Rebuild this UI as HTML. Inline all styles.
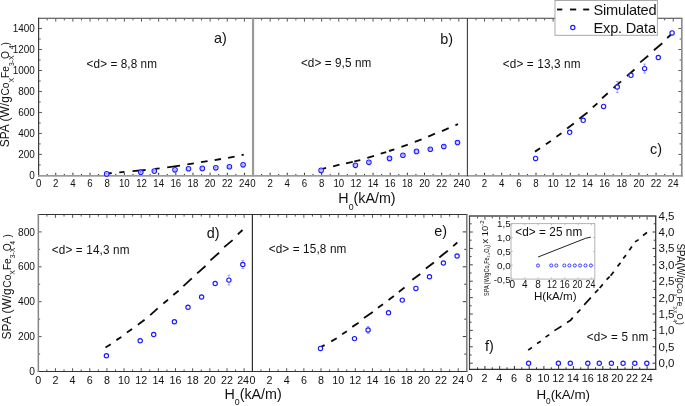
<!DOCTYPE html>
<html><head><meta charset="utf-8"><title>SPA vs H0</title>
<style>
html,body{margin:0;padding:0;background:#fff;}
body{width:685px;height:406px;overflow:hidden;font-family:"Liberation Sans", sans-serif;}
svg{display:block;will-change:transform;}
</style></head><body>
<svg width="685" height="406" viewBox="0 0 685 406" font-family='"Liberation Sans", sans-serif'>
<rect x="0" y="0" width="685" height="406" fill="#fff"/>
<line x1="47.18" y1="18.80" x2="47.18" y2="20.40" stroke="#555" stroke-width="1" />
<line x1="47.18" y1="175.10" x2="47.18" y2="173.90" stroke="#222" stroke-width="0.9" />
<line x1="55.75" y1="18.80" x2="55.75" y2="21.60" stroke="#555" stroke-width="1" />
<line x1="55.75" y1="175.10" x2="55.75" y2="172.70" stroke="#222" stroke-width="0.9" />
<line x1="64.33" y1="18.80" x2="64.33" y2="20.40" stroke="#555" stroke-width="1" />
<line x1="64.33" y1="175.10" x2="64.33" y2="173.90" stroke="#222" stroke-width="0.9" />
<line x1="72.90" y1="18.80" x2="72.90" y2="21.60" stroke="#555" stroke-width="1" />
<line x1="72.90" y1="175.10" x2="72.90" y2="172.70" stroke="#222" stroke-width="0.9" />
<line x1="81.48" y1="18.80" x2="81.48" y2="20.40" stroke="#555" stroke-width="1" />
<line x1="81.48" y1="175.10" x2="81.48" y2="173.90" stroke="#222" stroke-width="0.9" />
<line x1="90.06" y1="18.80" x2="90.06" y2="21.60" stroke="#555" stroke-width="1" />
<line x1="90.06" y1="175.10" x2="90.06" y2="172.70" stroke="#222" stroke-width="0.9" />
<line x1="98.63" y1="18.80" x2="98.63" y2="20.40" stroke="#555" stroke-width="1" />
<line x1="98.63" y1="175.10" x2="98.63" y2="173.90" stroke="#222" stroke-width="0.9" />
<line x1="107.21" y1="18.80" x2="107.21" y2="21.60" stroke="#555" stroke-width="1" />
<line x1="107.21" y1="175.10" x2="107.21" y2="172.70" stroke="#222" stroke-width="0.9" />
<line x1="115.78" y1="18.80" x2="115.78" y2="20.40" stroke="#555" stroke-width="1" />
<line x1="115.78" y1="175.10" x2="115.78" y2="173.90" stroke="#222" stroke-width="0.9" />
<line x1="124.36" y1="18.80" x2="124.36" y2="21.60" stroke="#555" stroke-width="1" />
<line x1="124.36" y1="175.10" x2="124.36" y2="172.70" stroke="#222" stroke-width="0.9" />
<line x1="132.94" y1="18.80" x2="132.94" y2="20.40" stroke="#555" stroke-width="1" />
<line x1="132.94" y1="175.10" x2="132.94" y2="173.90" stroke="#222" stroke-width="0.9" />
<line x1="141.51" y1="18.80" x2="141.51" y2="21.60" stroke="#555" stroke-width="1" />
<line x1="141.51" y1="175.10" x2="141.51" y2="172.70" stroke="#222" stroke-width="0.9" />
<line x1="150.09" y1="18.80" x2="150.09" y2="20.40" stroke="#555" stroke-width="1" />
<line x1="150.09" y1="175.10" x2="150.09" y2="173.90" stroke="#222" stroke-width="0.9" />
<line x1="158.66" y1="18.80" x2="158.66" y2="21.60" stroke="#555" stroke-width="1" />
<line x1="158.66" y1="175.10" x2="158.66" y2="172.70" stroke="#222" stroke-width="0.9" />
<line x1="167.24" y1="18.80" x2="167.24" y2="20.40" stroke="#555" stroke-width="1" />
<line x1="167.24" y1="175.10" x2="167.24" y2="173.90" stroke="#222" stroke-width="0.9" />
<line x1="175.82" y1="18.80" x2="175.82" y2="21.60" stroke="#555" stroke-width="1" />
<line x1="175.82" y1="175.10" x2="175.82" y2="172.70" stroke="#222" stroke-width="0.9" />
<line x1="184.39" y1="18.80" x2="184.39" y2="20.40" stroke="#555" stroke-width="1" />
<line x1="184.39" y1="175.10" x2="184.39" y2="173.90" stroke="#222" stroke-width="0.9" />
<line x1="192.97" y1="18.80" x2="192.97" y2="21.60" stroke="#555" stroke-width="1" />
<line x1="192.97" y1="175.10" x2="192.97" y2="172.70" stroke="#222" stroke-width="0.9" />
<line x1="201.54" y1="18.80" x2="201.54" y2="20.40" stroke="#555" stroke-width="1" />
<line x1="201.54" y1="175.10" x2="201.54" y2="173.90" stroke="#222" stroke-width="0.9" />
<line x1="210.12" y1="18.80" x2="210.12" y2="21.60" stroke="#555" stroke-width="1" />
<line x1="210.12" y1="175.10" x2="210.12" y2="172.70" stroke="#222" stroke-width="0.9" />
<line x1="218.70" y1="18.80" x2="218.70" y2="20.40" stroke="#555" stroke-width="1" />
<line x1="218.70" y1="175.10" x2="218.70" y2="173.90" stroke="#222" stroke-width="0.9" />
<line x1="227.27" y1="18.80" x2="227.27" y2="21.60" stroke="#555" stroke-width="1" />
<line x1="227.27" y1="175.10" x2="227.27" y2="172.70" stroke="#222" stroke-width="0.9" />
<line x1="235.85" y1="18.80" x2="235.85" y2="20.40" stroke="#555" stroke-width="1" />
<line x1="235.85" y1="175.10" x2="235.85" y2="173.90" stroke="#222" stroke-width="0.9" />
<line x1="244.42" y1="18.80" x2="244.42" y2="21.60" stroke="#555" stroke-width="1" />
<line x1="244.42" y1="175.10" x2="244.42" y2="172.70" stroke="#222" stroke-width="0.9" />
<line x1="261.58" y1="18.80" x2="261.58" y2="20.40" stroke="#555" stroke-width="1" />
<line x1="261.58" y1="175.10" x2="261.58" y2="173.90" stroke="#222" stroke-width="0.9" />
<line x1="270.15" y1="18.80" x2="270.15" y2="21.60" stroke="#555" stroke-width="1" />
<line x1="270.15" y1="175.10" x2="270.15" y2="172.70" stroke="#222" stroke-width="0.9" />
<line x1="278.73" y1="18.80" x2="278.73" y2="20.40" stroke="#555" stroke-width="1" />
<line x1="278.73" y1="175.10" x2="278.73" y2="173.90" stroke="#222" stroke-width="0.9" />
<line x1="287.30" y1="18.80" x2="287.30" y2="21.60" stroke="#555" stroke-width="1" />
<line x1="287.30" y1="175.10" x2="287.30" y2="172.70" stroke="#222" stroke-width="0.9" />
<line x1="295.88" y1="18.80" x2="295.88" y2="20.40" stroke="#555" stroke-width="1" />
<line x1="295.88" y1="175.10" x2="295.88" y2="173.90" stroke="#222" stroke-width="0.9" />
<line x1="304.46" y1="18.80" x2="304.46" y2="21.60" stroke="#555" stroke-width="1" />
<line x1="304.46" y1="175.10" x2="304.46" y2="172.70" stroke="#222" stroke-width="0.9" />
<line x1="313.03" y1="18.80" x2="313.03" y2="20.40" stroke="#555" stroke-width="1" />
<line x1="313.03" y1="175.10" x2="313.03" y2="173.90" stroke="#222" stroke-width="0.9" />
<line x1="321.61" y1="18.80" x2="321.61" y2="21.60" stroke="#555" stroke-width="1" />
<line x1="321.61" y1="175.10" x2="321.61" y2="172.70" stroke="#222" stroke-width="0.9" />
<line x1="330.18" y1="18.80" x2="330.18" y2="20.40" stroke="#555" stroke-width="1" />
<line x1="330.18" y1="175.10" x2="330.18" y2="173.90" stroke="#222" stroke-width="0.9" />
<line x1="338.76" y1="18.80" x2="338.76" y2="21.60" stroke="#555" stroke-width="1" />
<line x1="338.76" y1="175.10" x2="338.76" y2="172.70" stroke="#222" stroke-width="0.9" />
<line x1="347.34" y1="18.80" x2="347.34" y2="20.40" stroke="#555" stroke-width="1" />
<line x1="347.34" y1="175.10" x2="347.34" y2="173.90" stroke="#222" stroke-width="0.9" />
<line x1="355.91" y1="18.80" x2="355.91" y2="21.60" stroke="#555" stroke-width="1" />
<line x1="355.91" y1="175.10" x2="355.91" y2="172.70" stroke="#222" stroke-width="0.9" />
<line x1="364.49" y1="18.80" x2="364.49" y2="20.40" stroke="#555" stroke-width="1" />
<line x1="364.49" y1="175.10" x2="364.49" y2="173.90" stroke="#222" stroke-width="0.9" />
<line x1="373.06" y1="18.80" x2="373.06" y2="21.60" stroke="#555" stroke-width="1" />
<line x1="373.06" y1="175.10" x2="373.06" y2="172.70" stroke="#222" stroke-width="0.9" />
<line x1="381.64" y1="18.80" x2="381.64" y2="20.40" stroke="#555" stroke-width="1" />
<line x1="381.64" y1="175.10" x2="381.64" y2="173.90" stroke="#222" stroke-width="0.9" />
<line x1="390.22" y1="18.80" x2="390.22" y2="21.60" stroke="#555" stroke-width="1" />
<line x1="390.22" y1="175.10" x2="390.22" y2="172.70" stroke="#222" stroke-width="0.9" />
<line x1="398.79" y1="18.80" x2="398.79" y2="20.40" stroke="#555" stroke-width="1" />
<line x1="398.79" y1="175.10" x2="398.79" y2="173.90" stroke="#222" stroke-width="0.9" />
<line x1="407.37" y1="18.80" x2="407.37" y2="21.60" stroke="#555" stroke-width="1" />
<line x1="407.37" y1="175.10" x2="407.37" y2="172.70" stroke="#222" stroke-width="0.9" />
<line x1="415.94" y1="18.80" x2="415.94" y2="20.40" stroke="#555" stroke-width="1" />
<line x1="415.94" y1="175.10" x2="415.94" y2="173.90" stroke="#222" stroke-width="0.9" />
<line x1="424.52" y1="18.80" x2="424.52" y2="21.60" stroke="#555" stroke-width="1" />
<line x1="424.52" y1="175.10" x2="424.52" y2="172.70" stroke="#222" stroke-width="0.9" />
<line x1="433.10" y1="18.80" x2="433.10" y2="20.40" stroke="#555" stroke-width="1" />
<line x1="433.10" y1="175.10" x2="433.10" y2="173.90" stroke="#222" stroke-width="0.9" />
<line x1="441.67" y1="18.80" x2="441.67" y2="21.60" stroke="#555" stroke-width="1" />
<line x1="441.67" y1="175.10" x2="441.67" y2="172.70" stroke="#222" stroke-width="0.9" />
<line x1="450.25" y1="18.80" x2="450.25" y2="20.40" stroke="#555" stroke-width="1" />
<line x1="450.25" y1="175.10" x2="450.25" y2="173.90" stroke="#222" stroke-width="0.9" />
<line x1="458.82" y1="18.80" x2="458.82" y2="21.60" stroke="#555" stroke-width="1" />
<line x1="458.82" y1="175.10" x2="458.82" y2="172.70" stroke="#222" stroke-width="0.9" />
<line x1="475.98" y1="18.80" x2="475.98" y2="20.40" stroke="#555" stroke-width="1" />
<line x1="475.98" y1="175.10" x2="475.98" y2="173.90" stroke="#222" stroke-width="0.9" />
<line x1="484.55" y1="18.80" x2="484.55" y2="21.60" stroke="#555" stroke-width="1" />
<line x1="484.55" y1="175.10" x2="484.55" y2="172.70" stroke="#222" stroke-width="0.9" />
<line x1="493.13" y1="18.80" x2="493.13" y2="20.40" stroke="#555" stroke-width="1" />
<line x1="493.13" y1="175.10" x2="493.13" y2="173.90" stroke="#222" stroke-width="0.9" />
<line x1="501.70" y1="18.80" x2="501.70" y2="21.60" stroke="#555" stroke-width="1" />
<line x1="501.70" y1="175.10" x2="501.70" y2="172.70" stroke="#222" stroke-width="0.9" />
<line x1="510.28" y1="18.80" x2="510.28" y2="20.40" stroke="#555" stroke-width="1" />
<line x1="510.28" y1="175.10" x2="510.28" y2="173.90" stroke="#222" stroke-width="0.9" />
<line x1="518.86" y1="18.80" x2="518.86" y2="21.60" stroke="#555" stroke-width="1" />
<line x1="518.86" y1="175.10" x2="518.86" y2="172.70" stroke="#222" stroke-width="0.9" />
<line x1="527.43" y1="18.80" x2="527.43" y2="20.40" stroke="#555" stroke-width="1" />
<line x1="527.43" y1="175.10" x2="527.43" y2="173.90" stroke="#222" stroke-width="0.9" />
<line x1="536.01" y1="18.80" x2="536.01" y2="21.60" stroke="#555" stroke-width="1" />
<line x1="536.01" y1="175.10" x2="536.01" y2="172.70" stroke="#222" stroke-width="0.9" />
<line x1="544.58" y1="18.80" x2="544.58" y2="20.40" stroke="#555" stroke-width="1" />
<line x1="544.58" y1="175.10" x2="544.58" y2="173.90" stroke="#222" stroke-width="0.9" />
<line x1="553.16" y1="18.80" x2="553.16" y2="21.60" stroke="#555" stroke-width="1" />
<line x1="553.16" y1="175.10" x2="553.16" y2="172.70" stroke="#222" stroke-width="0.9" />
<line x1="561.74" y1="18.80" x2="561.74" y2="20.40" stroke="#555" stroke-width="1" />
<line x1="561.74" y1="175.10" x2="561.74" y2="173.90" stroke="#222" stroke-width="0.9" />
<line x1="570.31" y1="18.80" x2="570.31" y2="21.60" stroke="#555" stroke-width="1" />
<line x1="570.31" y1="175.10" x2="570.31" y2="172.70" stroke="#222" stroke-width="0.9" />
<line x1="578.89" y1="18.80" x2="578.89" y2="20.40" stroke="#555" stroke-width="1" />
<line x1="578.89" y1="175.10" x2="578.89" y2="173.90" stroke="#222" stroke-width="0.9" />
<line x1="587.46" y1="18.80" x2="587.46" y2="21.60" stroke="#555" stroke-width="1" />
<line x1="587.46" y1="175.10" x2="587.46" y2="172.70" stroke="#222" stroke-width="0.9" />
<line x1="596.04" y1="18.80" x2="596.04" y2="20.40" stroke="#555" stroke-width="1" />
<line x1="596.04" y1="175.10" x2="596.04" y2="173.90" stroke="#222" stroke-width="0.9" />
<line x1="604.62" y1="18.80" x2="604.62" y2="21.60" stroke="#555" stroke-width="1" />
<line x1="604.62" y1="175.10" x2="604.62" y2="172.70" stroke="#222" stroke-width="0.9" />
<line x1="613.19" y1="18.80" x2="613.19" y2="20.40" stroke="#555" stroke-width="1" />
<line x1="613.19" y1="175.10" x2="613.19" y2="173.90" stroke="#222" stroke-width="0.9" />
<line x1="621.77" y1="18.80" x2="621.77" y2="21.60" stroke="#555" stroke-width="1" />
<line x1="621.77" y1="175.10" x2="621.77" y2="172.70" stroke="#222" stroke-width="0.9" />
<line x1="630.34" y1="18.80" x2="630.34" y2="20.40" stroke="#555" stroke-width="1" />
<line x1="630.34" y1="175.10" x2="630.34" y2="173.90" stroke="#222" stroke-width="0.9" />
<line x1="638.92" y1="18.80" x2="638.92" y2="21.60" stroke="#555" stroke-width="1" />
<line x1="638.92" y1="175.10" x2="638.92" y2="172.70" stroke="#222" stroke-width="0.9" />
<line x1="647.50" y1="18.80" x2="647.50" y2="20.40" stroke="#555" stroke-width="1" />
<line x1="647.50" y1="175.10" x2="647.50" y2="173.90" stroke="#222" stroke-width="0.9" />
<line x1="656.07" y1="18.80" x2="656.07" y2="21.60" stroke="#555" stroke-width="1" />
<line x1="656.07" y1="175.10" x2="656.07" y2="172.70" stroke="#222" stroke-width="0.9" />
<line x1="664.65" y1="18.80" x2="664.65" y2="20.40" stroke="#555" stroke-width="1" />
<line x1="664.65" y1="175.10" x2="664.65" y2="173.90" stroke="#222" stroke-width="0.9" />
<line x1="673.22" y1="18.80" x2="673.22" y2="21.60" stroke="#555" stroke-width="1" />
<line x1="673.22" y1="175.10" x2="673.22" y2="172.70" stroke="#222" stroke-width="0.9" />
<line x1="39.10" y1="164.91" x2="40.70" y2="164.91" stroke="#555" stroke-width="1" />
<line x1="681.20" y1="164.91" x2="679.60" y2="164.91" stroke="#555" stroke-width="1" />
<line x1="39.10" y1="154.42" x2="41.90" y2="154.42" stroke="#555" stroke-width="1" />
<line x1="681.20" y1="154.42" x2="678.40" y2="154.42" stroke="#555" stroke-width="1" />
<line x1="39.10" y1="143.93" x2="40.70" y2="143.93" stroke="#555" stroke-width="1" />
<line x1="681.20" y1="143.93" x2="679.60" y2="143.93" stroke="#555" stroke-width="1" />
<line x1="39.10" y1="133.44" x2="41.90" y2="133.44" stroke="#555" stroke-width="1" />
<line x1="681.20" y1="133.44" x2="678.40" y2="133.44" stroke="#555" stroke-width="1" />
<line x1="39.10" y1="122.95" x2="40.70" y2="122.95" stroke="#555" stroke-width="1" />
<line x1="681.20" y1="122.95" x2="679.60" y2="122.95" stroke="#555" stroke-width="1" />
<line x1="39.10" y1="112.46" x2="41.90" y2="112.46" stroke="#555" stroke-width="1" />
<line x1="681.20" y1="112.46" x2="678.40" y2="112.46" stroke="#555" stroke-width="1" />
<line x1="39.10" y1="101.97" x2="40.70" y2="101.97" stroke="#555" stroke-width="1" />
<line x1="681.20" y1="101.97" x2="679.60" y2="101.97" stroke="#555" stroke-width="1" />
<line x1="39.10" y1="91.48" x2="41.90" y2="91.48" stroke="#555" stroke-width="1" />
<line x1="681.20" y1="91.48" x2="678.40" y2="91.48" stroke="#555" stroke-width="1" />
<line x1="39.10" y1="80.99" x2="40.70" y2="80.99" stroke="#555" stroke-width="1" />
<line x1="681.20" y1="80.99" x2="679.60" y2="80.99" stroke="#555" stroke-width="1" />
<line x1="39.10" y1="70.50" x2="41.90" y2="70.50" stroke="#555" stroke-width="1" />
<line x1="681.20" y1="70.50" x2="678.40" y2="70.50" stroke="#555" stroke-width="1" />
<line x1="39.10" y1="60.01" x2="40.70" y2="60.01" stroke="#555" stroke-width="1" />
<line x1="681.20" y1="60.01" x2="679.60" y2="60.01" stroke="#555" stroke-width="1" />
<line x1="39.10" y1="49.52" x2="41.90" y2="49.52" stroke="#555" stroke-width="1" />
<line x1="681.20" y1="49.52" x2="678.40" y2="49.52" stroke="#555" stroke-width="1" />
<line x1="39.10" y1="39.03" x2="40.70" y2="39.03" stroke="#555" stroke-width="1" />
<line x1="681.20" y1="39.03" x2="679.60" y2="39.03" stroke="#555" stroke-width="1" />
<line x1="39.10" y1="28.54" x2="41.90" y2="28.54" stroke="#555" stroke-width="1" />
<line x1="681.20" y1="28.54" x2="678.40" y2="28.54" stroke="#555" stroke-width="1" />
<line x1="38.10" y1="18.30" x2="682.40" y2="18.30" stroke="#3c3c3c" stroke-width="1.1" />
<line x1="38.60" y1="17.80" x2="38.60" y2="176.60" stroke="#3c3c3c" stroke-width="1.2" />
<rect x="38.10" y="175.00" width="644.50" height="1.7" fill="#9a9a9a"/>
<rect x="251.95" y="18.30" width="2.2" height="158.10" fill="#9a9a9a"/>
<line x1="467.40" y1="18.30" x2="467.40" y2="176.20" stroke="#3c3c3c" stroke-width="1.1" />
<rect x="681.00" y="17.80" width="1.6" height="158.70" fill="#8a8a8a"/>
<text transform="translate(34.90,178.70) scale(0.94,1.0)" x="0" y="0" font-size="10.6" text-anchor="end" fill="#111" >0</text>
<text transform="translate(34.90,157.72) scale(0.94,1.0)" x="0" y="0" font-size="10.6" text-anchor="end" fill="#111" >200</text>
<text transform="translate(34.90,136.74) scale(0.94,1.0)" x="0" y="0" font-size="10.6" text-anchor="end" fill="#111" >400</text>
<text transform="translate(34.90,115.76) scale(0.94,1.0)" x="0" y="0" font-size="10.6" text-anchor="end" fill="#111" >600</text>
<text transform="translate(34.90,94.78) scale(0.94,1.0)" x="0" y="0" font-size="10.6" text-anchor="end" fill="#111" >800</text>
<text transform="translate(34.90,73.80) scale(0.94,1.0)" x="0" y="0" font-size="10.6" text-anchor="end" fill="#111" >1000</text>
<text transform="translate(34.90,52.82) scale(0.94,1.0)" x="0" y="0" font-size="10.6" text-anchor="end" fill="#111" >1200</text>
<text transform="translate(34.90,31.84) scale(0.94,1.0)" x="0" y="0" font-size="10.6" text-anchor="end" fill="#111" >1400</text>
<text transform="translate(38.60,187.00) scale(0.93,1.0)" x="0" y="0" font-size="10.4" text-anchor="middle" fill="#111" >0</text>
<text transform="translate(55.75,187.00) scale(0.93,1.0)" x="0" y="0" font-size="10.4" text-anchor="middle" fill="#111" >2</text>
<text transform="translate(72.90,187.00) scale(0.93,1.0)" x="0" y="0" font-size="10.4" text-anchor="middle" fill="#111" >4</text>
<text transform="translate(90.06,187.00) scale(0.93,1.0)" x="0" y="0" font-size="10.4" text-anchor="middle" fill="#111" >6</text>
<text transform="translate(107.21,187.00) scale(0.93,1.0)" x="0" y="0" font-size="10.4" text-anchor="middle" fill="#111" >8</text>
<text transform="translate(124.36,187.00) scale(0.93,1.0)" x="0" y="0" font-size="10.4" text-anchor="middle" fill="#111" >10</text>
<text transform="translate(141.51,187.00) scale(0.93,1.0)" x="0" y="0" font-size="10.4" text-anchor="middle" fill="#111" >12</text>
<text transform="translate(158.66,187.00) scale(0.93,1.0)" x="0" y="0" font-size="10.4" text-anchor="middle" fill="#111" >14</text>
<text transform="translate(175.82,187.00) scale(0.93,1.0)" x="0" y="0" font-size="10.4" text-anchor="middle" fill="#111" >16</text>
<text transform="translate(192.97,187.00) scale(0.93,1.0)" x="0" y="0" font-size="10.4" text-anchor="middle" fill="#111" >18</text>
<text transform="translate(210.12,187.00) scale(0.93,1.0)" x="0" y="0" font-size="10.4" text-anchor="middle" fill="#111" >20</text>
<text transform="translate(227.27,187.00) scale(0.93,1.0)" x="0" y="0" font-size="10.4" text-anchor="middle" fill="#111" >22</text>
<text transform="translate(244.42,187.00) scale(0.93,1.0)" x="0" y="0" font-size="10.4" text-anchor="middle" fill="#111" >24</text>
<text transform="translate(253.00,187.00) scale(0.93,1.0)" x="0" y="0" font-size="10.4" text-anchor="middle" fill="#111" >0</text>
<text transform="translate(270.15,187.00) scale(0.93,1.0)" x="0" y="0" font-size="10.4" text-anchor="middle" fill="#111" >2</text>
<text transform="translate(287.30,187.00) scale(0.93,1.0)" x="0" y="0" font-size="10.4" text-anchor="middle" fill="#111" >4</text>
<text transform="translate(304.46,187.00) scale(0.93,1.0)" x="0" y="0" font-size="10.4" text-anchor="middle" fill="#111" >6</text>
<text transform="translate(321.61,187.00) scale(0.93,1.0)" x="0" y="0" font-size="10.4" text-anchor="middle" fill="#111" >8</text>
<text transform="translate(338.76,187.00) scale(0.93,1.0)" x="0" y="0" font-size="10.4" text-anchor="middle" fill="#111" >10</text>
<text transform="translate(355.91,187.00) scale(0.93,1.0)" x="0" y="0" font-size="10.4" text-anchor="middle" fill="#111" >12</text>
<text transform="translate(373.06,187.00) scale(0.93,1.0)" x="0" y="0" font-size="10.4" text-anchor="middle" fill="#111" >14</text>
<text transform="translate(390.22,187.00) scale(0.93,1.0)" x="0" y="0" font-size="10.4" text-anchor="middle" fill="#111" >16</text>
<text transform="translate(407.37,187.00) scale(0.93,1.0)" x="0" y="0" font-size="10.4" text-anchor="middle" fill="#111" >18</text>
<text transform="translate(424.52,187.00) scale(0.93,1.0)" x="0" y="0" font-size="10.4" text-anchor="middle" fill="#111" >20</text>
<text transform="translate(441.67,187.00) scale(0.93,1.0)" x="0" y="0" font-size="10.4" text-anchor="middle" fill="#111" >22</text>
<text transform="translate(458.82,187.00) scale(0.93,1.0)" x="0" y="0" font-size="10.4" text-anchor="middle" fill="#111" >24</text>
<text transform="translate(467.40,187.00) scale(0.93,1.0)" x="0" y="0" font-size="10.4" text-anchor="middle" fill="#111" >0</text>
<text transform="translate(484.55,187.00) scale(0.93,1.0)" x="0" y="0" font-size="10.4" text-anchor="middle" fill="#111" >2</text>
<text transform="translate(501.70,187.00) scale(0.93,1.0)" x="0" y="0" font-size="10.4" text-anchor="middle" fill="#111" >4</text>
<text transform="translate(518.86,187.00) scale(0.93,1.0)" x="0" y="0" font-size="10.4" text-anchor="middle" fill="#111" >6</text>
<text transform="translate(536.01,187.00) scale(0.93,1.0)" x="0" y="0" font-size="10.4" text-anchor="middle" fill="#111" >8</text>
<text transform="translate(553.16,187.00) scale(0.93,1.0)" x="0" y="0" font-size="10.4" text-anchor="middle" fill="#111" >10</text>
<text transform="translate(570.31,187.00) scale(0.93,1.0)" x="0" y="0" font-size="10.4" text-anchor="middle" fill="#111" >12</text>
<text transform="translate(587.46,187.00) scale(0.93,1.0)" x="0" y="0" font-size="10.4" text-anchor="middle" fill="#111" >14</text>
<text transform="translate(604.62,187.00) scale(0.93,1.0)" x="0" y="0" font-size="10.4" text-anchor="middle" fill="#111" >16</text>
<text transform="translate(621.77,187.00) scale(0.93,1.0)" x="0" y="0" font-size="10.4" text-anchor="middle" fill="#111" >18</text>
<text transform="translate(638.92,187.00) scale(0.93,1.0)" x="0" y="0" font-size="10.4" text-anchor="middle" fill="#111" >20</text>
<text transform="translate(656.07,187.00) scale(0.93,1.0)" x="0" y="0" font-size="10.4" text-anchor="middle" fill="#111" >22</text>
<text transform="translate(673.22,187.00) scale(0.93,1.0)" x="0" y="0" font-size="10.4" text-anchor="middle" fill="#111" >24</text>
<g transform="translate(9.1,147.3) rotate(-90) scale(1.0,1.0)" fill="#111">
<text x="0" y="0" font-size="12.0">SPA (W/g<tspan font-size="10.2" dx="0.6">Co</tspan><tspan font-size="6.8" dy="4.6">X</tspan><tspan font-size="10.2" dy="-4.6">Fe</tspan><tspan font-size="6.8" dy="4.6">3-X</tspan><tspan font-size="10.2" dy="-4.6" dx="-3.5">O</tspan><tspan font-size="6.8" dy="4.6" dx="1.8">4</tspan><tspan font-size="10.2" dy="-4.6" dx="0.0">)</tspan></text>
</g>
<text x="338.3" y="203.4" font-size="14.3" fill="#111">H<tspan font-size="8.8" dy="6.2">0</tspan><tspan dy="-6.2">(kA/m)</tspan></text>
<text transform="translate(86.60,68.40) scale(0.94,1.0)" x="0" y="0" font-size="12.5" text-anchor="start" fill="#111" textLength="74.9">&lt;d&gt; = 8,8 nm</text>
<text transform="translate(300.90,66.70) scale(0.94,1.0)" x="0" y="0" font-size="12.5" text-anchor="start" fill="#111" textLength="74.9">&lt;d&gt; = 9,5 nm</text>
<text transform="translate(502.80,68.10) scale(0.94,1.0)" x="0" y="0" font-size="12.5" text-anchor="start" fill="#111" textLength="82.6">&lt;d&gt; = 13,3 nm</text>
<text x="213.90" y="42.90" font-size="14.4" text-anchor="start" fill="#111" >a)</text>
<text x="440.20" y="43.60" font-size="14.4" text-anchor="start" fill="#111" >b)</text>
<text x="650.10" y="153.90" font-size="14.4" text-anchor="start" fill="#111" >c)</text>
<line x1="108.80" y1="173.50" x2="111.70" y2="173.00" stroke="#0a0a0a" stroke-width="1.85" />
<line x1="119.30" y1="172.30" x2="124.50" y2="171.80" stroke="#0a0a0a" stroke-width="1.85" />
<line x1="132.50" y1="171.10" x2="145.60" y2="170.00" stroke="#0a0a0a" stroke-width="1.85" />
<line x1="154.90" y1="168.80" x2="159.60" y2="168.30" stroke="#0a0a0a" stroke-width="1.85" />
<line x1="167.20" y1="167.40" x2="180.00" y2="165.60" stroke="#0a0a0a" stroke-width="1.85" />
<line x1="187.30" y1="164.30" x2="193.90" y2="163.30" stroke="#0a0a0a" stroke-width="1.85" />
<line x1="201.00" y1="162.10" x2="207.60" y2="161.10" stroke="#0a0a0a" stroke-width="1.85" />
<line x1="214.60" y1="160.10" x2="221.00" y2="159.00" stroke="#0a0a0a" stroke-width="1.85" />
<line x1="228.10" y1="157.80" x2="234.60" y2="156.60" stroke="#0a0a0a" stroke-width="1.85" />
<line x1="241.60" y1="155.10" x2="243.80" y2="154.60" stroke="#0a0a0a" stroke-width="1.85" />
<circle cx="106.70" cy="173.90" r="2.3" fill="#f1f1ff" stroke="#1a1aff" stroke-width="1.05"/>
<rect x="105.80" y="173.10" width="1.8" height="1.6" fill="none" stroke="#7a7aff" stroke-width="0.5"/>
<circle cx="140.80" cy="172.20" r="2.3" fill="#f1f1ff" stroke="#1a1aff" stroke-width="1.05"/>
<rect x="139.90" y="171.40" width="1.8" height="1.6" fill="none" stroke="#7a7aff" stroke-width="0.5"/>
<circle cx="154.30" cy="171.10" r="2.3" fill="#f1f1ff" stroke="#1a1aff" stroke-width="1.05"/>
<rect x="153.40" y="170.30" width="1.8" height="1.6" fill="none" stroke="#7a7aff" stroke-width="0.5"/>
<circle cx="175.00" cy="169.80" r="2.3" fill="#f1f1ff" stroke="#1a1aff" stroke-width="1.05"/>
<rect x="174.10" y="169.00" width="1.8" height="1.6" fill="none" stroke="#7a7aff" stroke-width="0.5"/>
<circle cx="188.50" cy="168.70" r="2.3" fill="#f1f1ff" stroke="#1a1aff" stroke-width="1.05"/>
<rect x="187.60" y="167.90" width="1.8" height="1.6" fill="none" stroke="#7a7aff" stroke-width="0.5"/>
<circle cx="202.30" cy="168.40" r="2.3" fill="#f1f1ff" stroke="#1a1aff" stroke-width="1.05"/>
<rect x="201.40" y="167.60" width="1.8" height="1.6" fill="none" stroke="#7a7aff" stroke-width="0.5"/>
<circle cx="215.80" cy="167.80" r="2.3" fill="#f1f1ff" stroke="#1a1aff" stroke-width="1.05"/>
<rect x="214.90" y="167.00" width="1.8" height="1.6" fill="none" stroke="#7a7aff" stroke-width="0.5"/>
<circle cx="229.40" cy="166.70" r="2.3" fill="#f1f1ff" stroke="#1a1aff" stroke-width="1.05"/>
<rect x="228.50" y="165.90" width="1.8" height="1.6" fill="none" stroke="#7a7aff" stroke-width="0.5"/>
<circle cx="243.10" cy="164.80" r="2.3" fill="#f1f1ff" stroke="#1a1aff" stroke-width="1.05"/>
<rect x="242.20" y="164.00" width="1.8" height="1.6" fill="none" stroke="#7a7aff" stroke-width="0.5"/>
<line x1="322.60" y1="168.80" x2="326.10" y2="167.90" stroke="#0a0a0a" stroke-width="1.85" />
<line x1="333.10" y1="166.30" x2="339.50" y2="164.70" stroke="#0a0a0a" stroke-width="1.85" />
<line x1="346.00" y1="163.30" x2="352.80" y2="161.80" stroke="#0a0a0a" stroke-width="1.85" />
<line x1="354.30" y1="161.40" x2="360.30" y2="160.10" stroke="#0a0a0a" stroke-width="1.85" />
<line x1="367.30" y1="157.80" x2="374.00" y2="155.90" stroke="#0a0a0a" stroke-width="1.85" />
<line x1="380.70" y1="153.60" x2="386.20" y2="152.10" stroke="#0a0a0a" stroke-width="1.85" />
<line x1="389.10" y1="151.00" x2="394.30" y2="149.30" stroke="#0a0a0a" stroke-width="1.85" />
<line x1="401.40" y1="146.80" x2="407.80" y2="144.70" stroke="#0a0a0a" stroke-width="1.85" />
<line x1="414.80" y1="141.90" x2="421.60" y2="139.30" stroke="#0a0a0a" stroke-width="1.85" />
<line x1="428.20" y1="136.60" x2="435.00" y2="133.70" stroke="#0a0a0a" stroke-width="1.85" />
<line x1="442.00" y1="131.10" x2="448.70" y2="128.10" stroke="#0a0a0a" stroke-width="1.85" />
<line x1="455.40" y1="125.30" x2="458.00" y2="124.00" stroke="#0a0a0a" stroke-width="1.85" />
<circle cx="321.10" cy="170.40" r="2.3" fill="#f1f1ff" stroke="#1a1aff" stroke-width="1.05"/>
<rect x="320.20" y="169.60" width="1.8" height="1.6" fill="none" stroke="#7a7aff" stroke-width="0.5"/>
<circle cx="355.40" cy="165.30" r="2.3" fill="#f1f1ff" stroke="#1a1aff" stroke-width="1.05"/>
<rect x="354.50" y="164.50" width="1.8" height="1.6" fill="none" stroke="#7a7aff" stroke-width="0.5"/>
<circle cx="368.90" cy="162.30" r="2.3" fill="#f1f1ff" stroke="#1a1aff" stroke-width="1.05"/>
<rect x="368.00" y="161.50" width="1.8" height="1.6" fill="none" stroke="#7a7aff" stroke-width="0.5"/>
<circle cx="389.50" cy="158.40" r="2.3" fill="#f1f1ff" stroke="#1a1aff" stroke-width="1.05"/>
<rect x="388.60" y="157.60" width="1.8" height="1.6" fill="none" stroke="#7a7aff" stroke-width="0.5"/>
<circle cx="402.90" cy="155.20" r="2.3" fill="#f1f1ff" stroke="#1a1aff" stroke-width="1.05"/>
<rect x="402.00" y="154.40" width="1.8" height="1.6" fill="none" stroke="#7a7aff" stroke-width="0.5"/>
<circle cx="416.50" cy="151.40" r="2.3" fill="#f1f1ff" stroke="#1a1aff" stroke-width="1.05"/>
<rect x="415.60" y="150.60" width="1.8" height="1.6" fill="none" stroke="#7a7aff" stroke-width="0.5"/>
<circle cx="430.30" cy="149.20" r="2.3" fill="#f1f1ff" stroke="#1a1aff" stroke-width="1.05"/>
<rect x="429.40" y="148.40" width="1.8" height="1.6" fill="none" stroke="#7a7aff" stroke-width="0.5"/>
<circle cx="443.80" cy="146.50" r="2.3" fill="#f1f1ff" stroke="#1a1aff" stroke-width="1.05"/>
<rect x="442.90" y="145.70" width="1.8" height="1.6" fill="none" stroke="#7a7aff" stroke-width="0.5"/>
<circle cx="457.50" cy="142.50" r="2.3" fill="#f1f1ff" stroke="#1a1aff" stroke-width="1.05"/>
<rect x="456.60" y="141.70" width="1.8" height="1.6" fill="none" stroke="#7a7aff" stroke-width="0.5"/>
<line x1="535.00" y1="151.60" x2="540.10" y2="148.30" stroke="#0a0a0a" stroke-width="1.85" />
<line x1="545.90" y1="144.30" x2="550.80" y2="141.10" stroke="#0a0a0a" stroke-width="1.85" />
<line x1="556.40" y1="136.70" x2="561.40" y2="133.20" stroke="#0a0a0a" stroke-width="1.85" />
<line x1="567.10" y1="128.60" x2="573.80" y2="123.60" stroke="#0a0a0a" stroke-width="1.85" />
<line x1="579.30" y1="118.70" x2="587.50" y2="112.50" stroke="#0a0a0a" stroke-width="1.85" />
<line x1="592.80" y1="107.30" x2="597.40" y2="103.40" stroke="#0a0a0a" stroke-width="1.85" />
<line x1="602.10" y1="98.20" x2="607.70" y2="93.30" stroke="#0a0a0a" stroke-width="1.85" />
<line x1="613.50" y1="88.00" x2="621.00" y2="81.40" stroke="#0a0a0a" stroke-width="1.85" />
<line x1="627.00" y1="76.00" x2="634.50" y2="69.50" stroke="#0a0a0a" stroke-width="1.85" />
<line x1="640.20" y1="62.40" x2="648.20" y2="55.80" stroke="#0a0a0a" stroke-width="1.85" />
<line x1="653.90" y1="50.20" x2="662.30" y2="43.20" stroke="#0a0a0a" stroke-width="1.85" />
<line x1="667.20" y1="38.00" x2="671.10" y2="34.50" stroke="#0a0a0a" stroke-width="1.85" />
<circle cx="535.60" cy="158.40" r="2.15" fill="#fff" stroke="#1a1aff" stroke-width="1.15"/>
<circle cx="569.70" cy="132.30" r="2.15" fill="#fff" stroke="#1a1aff" stroke-width="1.15"/>
<circle cx="583.20" cy="120.30" r="2.15" fill="#fff" stroke="#1a1aff" stroke-width="1.15"/>
<circle cx="603.60" cy="106.40" r="2.15" fill="#fff" stroke="#1a1aff" stroke-width="1.15"/>
<line x1="617.30" y1="81.50" x2="617.30" y2="92.50" stroke="#7f7fff" stroke-width="0.7" />
<line x1="615.90" y1="81.50" x2="618.70" y2="81.50" stroke="#7f7fff" stroke-width="0.7" />
<line x1="615.90" y1="92.50" x2="618.70" y2="92.50" stroke="#7f7fff" stroke-width="0.7" />
<circle cx="617.30" cy="87.00" r="2.15" fill="#fff" stroke="#1a1aff" stroke-width="1.15"/>
<circle cx="631.00" cy="75.30" r="2.15" fill="#fff" stroke="#1a1aff" stroke-width="1.15"/>
<line x1="644.60" y1="64.10" x2="644.60" y2="73.10" stroke="#7f7fff" stroke-width="0.7" />
<line x1="643.20" y1="64.10" x2="646.00" y2="64.10" stroke="#7f7fff" stroke-width="0.7" />
<line x1="643.20" y1="73.10" x2="646.00" y2="73.10" stroke="#7f7fff" stroke-width="0.7" />
<circle cx="644.60" cy="68.60" r="2.15" fill="#fff" stroke="#1a1aff" stroke-width="1.15"/>
<circle cx="658.30" cy="57.50" r="2.15" fill="#fff" stroke="#1a1aff" stroke-width="1.15"/>
<circle cx="672.10" cy="32.90" r="2.15" fill="#fff" stroke="#1a1aff" stroke-width="1.15"/>
<line x1="46.88" y1="215.00" x2="46.88" y2="216.60" stroke="#555" stroke-width="1" />
<line x1="46.88" y1="371.00" x2="46.88" y2="369.40" stroke="#555" stroke-width="1" />
<line x1="55.45" y1="215.00" x2="55.45" y2="217.80" stroke="#555" stroke-width="1" />
<line x1="55.45" y1="371.00" x2="55.45" y2="368.20" stroke="#555" stroke-width="1" />
<line x1="64.03" y1="215.00" x2="64.03" y2="216.60" stroke="#555" stroke-width="1" />
<line x1="64.03" y1="371.00" x2="64.03" y2="369.40" stroke="#555" stroke-width="1" />
<line x1="72.60" y1="215.00" x2="72.60" y2="217.80" stroke="#555" stroke-width="1" />
<line x1="72.60" y1="371.00" x2="72.60" y2="368.20" stroke="#555" stroke-width="1" />
<line x1="81.18" y1="215.00" x2="81.18" y2="216.60" stroke="#555" stroke-width="1" />
<line x1="81.18" y1="371.00" x2="81.18" y2="369.40" stroke="#555" stroke-width="1" />
<line x1="89.76" y1="215.00" x2="89.76" y2="217.80" stroke="#555" stroke-width="1" />
<line x1="89.76" y1="371.00" x2="89.76" y2="368.20" stroke="#555" stroke-width="1" />
<line x1="98.33" y1="215.00" x2="98.33" y2="216.60" stroke="#555" stroke-width="1" />
<line x1="98.33" y1="371.00" x2="98.33" y2="369.40" stroke="#555" stroke-width="1" />
<line x1="106.91" y1="215.00" x2="106.91" y2="217.80" stroke="#555" stroke-width="1" />
<line x1="106.91" y1="371.00" x2="106.91" y2="368.20" stroke="#555" stroke-width="1" />
<line x1="115.48" y1="215.00" x2="115.48" y2="216.60" stroke="#555" stroke-width="1" />
<line x1="115.48" y1="371.00" x2="115.48" y2="369.40" stroke="#555" stroke-width="1" />
<line x1="124.06" y1="215.00" x2="124.06" y2="217.80" stroke="#555" stroke-width="1" />
<line x1="124.06" y1="371.00" x2="124.06" y2="368.20" stroke="#555" stroke-width="1" />
<line x1="132.64" y1="215.00" x2="132.64" y2="216.60" stroke="#555" stroke-width="1" />
<line x1="132.64" y1="371.00" x2="132.64" y2="369.40" stroke="#555" stroke-width="1" />
<line x1="141.21" y1="215.00" x2="141.21" y2="217.80" stroke="#555" stroke-width="1" />
<line x1="141.21" y1="371.00" x2="141.21" y2="368.20" stroke="#555" stroke-width="1" />
<line x1="149.79" y1="215.00" x2="149.79" y2="216.60" stroke="#555" stroke-width="1" />
<line x1="149.79" y1="371.00" x2="149.79" y2="369.40" stroke="#555" stroke-width="1" />
<line x1="158.36" y1="215.00" x2="158.36" y2="217.80" stroke="#555" stroke-width="1" />
<line x1="158.36" y1="371.00" x2="158.36" y2="368.20" stroke="#555" stroke-width="1" />
<line x1="166.94" y1="215.00" x2="166.94" y2="216.60" stroke="#555" stroke-width="1" />
<line x1="166.94" y1="371.00" x2="166.94" y2="369.40" stroke="#555" stroke-width="1" />
<line x1="175.52" y1="215.00" x2="175.52" y2="217.80" stroke="#555" stroke-width="1" />
<line x1="175.52" y1="371.00" x2="175.52" y2="368.20" stroke="#555" stroke-width="1" />
<line x1="184.09" y1="215.00" x2="184.09" y2="216.60" stroke="#555" stroke-width="1" />
<line x1="184.09" y1="371.00" x2="184.09" y2="369.40" stroke="#555" stroke-width="1" />
<line x1="192.67" y1="215.00" x2="192.67" y2="217.80" stroke="#555" stroke-width="1" />
<line x1="192.67" y1="371.00" x2="192.67" y2="368.20" stroke="#555" stroke-width="1" />
<line x1="201.24" y1="215.00" x2="201.24" y2="216.60" stroke="#555" stroke-width="1" />
<line x1="201.24" y1="371.00" x2="201.24" y2="369.40" stroke="#555" stroke-width="1" />
<line x1="209.82" y1="215.00" x2="209.82" y2="217.80" stroke="#555" stroke-width="1" />
<line x1="209.82" y1="371.00" x2="209.82" y2="368.20" stroke="#555" stroke-width="1" />
<line x1="218.40" y1="215.00" x2="218.40" y2="216.60" stroke="#555" stroke-width="1" />
<line x1="218.40" y1="371.00" x2="218.40" y2="369.40" stroke="#555" stroke-width="1" />
<line x1="226.97" y1="215.00" x2="226.97" y2="217.80" stroke="#555" stroke-width="1" />
<line x1="226.97" y1="371.00" x2="226.97" y2="368.20" stroke="#555" stroke-width="1" />
<line x1="235.55" y1="215.00" x2="235.55" y2="216.60" stroke="#555" stroke-width="1" />
<line x1="235.55" y1="371.00" x2="235.55" y2="369.40" stroke="#555" stroke-width="1" />
<line x1="244.12" y1="215.00" x2="244.12" y2="217.80" stroke="#555" stroke-width="1" />
<line x1="244.12" y1="371.00" x2="244.12" y2="368.20" stroke="#555" stroke-width="1" />
<line x1="260.98" y1="215.00" x2="260.98" y2="216.60" stroke="#555" stroke-width="1" />
<line x1="260.98" y1="371.00" x2="260.98" y2="369.40" stroke="#555" stroke-width="1" />
<line x1="269.55" y1="215.00" x2="269.55" y2="217.80" stroke="#555" stroke-width="1" />
<line x1="269.55" y1="371.00" x2="269.55" y2="368.20" stroke="#555" stroke-width="1" />
<line x1="278.13" y1="215.00" x2="278.13" y2="216.60" stroke="#555" stroke-width="1" />
<line x1="278.13" y1="371.00" x2="278.13" y2="369.40" stroke="#555" stroke-width="1" />
<line x1="286.70" y1="215.00" x2="286.70" y2="217.80" stroke="#555" stroke-width="1" />
<line x1="286.70" y1="371.00" x2="286.70" y2="368.20" stroke="#555" stroke-width="1" />
<line x1="295.28" y1="215.00" x2="295.28" y2="216.60" stroke="#555" stroke-width="1" />
<line x1="295.28" y1="371.00" x2="295.28" y2="369.40" stroke="#555" stroke-width="1" />
<line x1="303.86" y1="215.00" x2="303.86" y2="217.80" stroke="#555" stroke-width="1" />
<line x1="303.86" y1="371.00" x2="303.86" y2="368.20" stroke="#555" stroke-width="1" />
<line x1="312.43" y1="215.00" x2="312.43" y2="216.60" stroke="#555" stroke-width="1" />
<line x1="312.43" y1="371.00" x2="312.43" y2="369.40" stroke="#555" stroke-width="1" />
<line x1="321.01" y1="215.00" x2="321.01" y2="217.80" stroke="#555" stroke-width="1" />
<line x1="321.01" y1="371.00" x2="321.01" y2="368.20" stroke="#555" stroke-width="1" />
<line x1="329.58" y1="215.00" x2="329.58" y2="216.60" stroke="#555" stroke-width="1" />
<line x1="329.58" y1="371.00" x2="329.58" y2="369.40" stroke="#555" stroke-width="1" />
<line x1="338.16" y1="215.00" x2="338.16" y2="217.80" stroke="#555" stroke-width="1" />
<line x1="338.16" y1="371.00" x2="338.16" y2="368.20" stroke="#555" stroke-width="1" />
<line x1="346.74" y1="215.00" x2="346.74" y2="216.60" stroke="#555" stroke-width="1" />
<line x1="346.74" y1="371.00" x2="346.74" y2="369.40" stroke="#555" stroke-width="1" />
<line x1="355.31" y1="215.00" x2="355.31" y2="217.80" stroke="#555" stroke-width="1" />
<line x1="355.31" y1="371.00" x2="355.31" y2="368.20" stroke="#555" stroke-width="1" />
<line x1="363.89" y1="215.00" x2="363.89" y2="216.60" stroke="#555" stroke-width="1" />
<line x1="363.89" y1="371.00" x2="363.89" y2="369.40" stroke="#555" stroke-width="1" />
<line x1="372.46" y1="215.00" x2="372.46" y2="217.80" stroke="#555" stroke-width="1" />
<line x1="372.46" y1="371.00" x2="372.46" y2="368.20" stroke="#555" stroke-width="1" />
<line x1="381.04" y1="215.00" x2="381.04" y2="216.60" stroke="#555" stroke-width="1" />
<line x1="381.04" y1="371.00" x2="381.04" y2="369.40" stroke="#555" stroke-width="1" />
<line x1="389.62" y1="215.00" x2="389.62" y2="217.80" stroke="#555" stroke-width="1" />
<line x1="389.62" y1="371.00" x2="389.62" y2="368.20" stroke="#555" stroke-width="1" />
<line x1="398.19" y1="215.00" x2="398.19" y2="216.60" stroke="#555" stroke-width="1" />
<line x1="398.19" y1="371.00" x2="398.19" y2="369.40" stroke="#555" stroke-width="1" />
<line x1="406.77" y1="215.00" x2="406.77" y2="217.80" stroke="#555" stroke-width="1" />
<line x1="406.77" y1="371.00" x2="406.77" y2="368.20" stroke="#555" stroke-width="1" />
<line x1="415.34" y1="215.00" x2="415.34" y2="216.60" stroke="#555" stroke-width="1" />
<line x1="415.34" y1="371.00" x2="415.34" y2="369.40" stroke="#555" stroke-width="1" />
<line x1="423.92" y1="215.00" x2="423.92" y2="217.80" stroke="#555" stroke-width="1" />
<line x1="423.92" y1="371.00" x2="423.92" y2="368.20" stroke="#555" stroke-width="1" />
<line x1="432.50" y1="215.00" x2="432.50" y2="216.60" stroke="#555" stroke-width="1" />
<line x1="432.50" y1="371.00" x2="432.50" y2="369.40" stroke="#555" stroke-width="1" />
<line x1="441.07" y1="215.00" x2="441.07" y2="217.80" stroke="#555" stroke-width="1" />
<line x1="441.07" y1="371.00" x2="441.07" y2="368.20" stroke="#555" stroke-width="1" />
<line x1="449.65" y1="215.00" x2="449.65" y2="216.60" stroke="#555" stroke-width="1" />
<line x1="449.65" y1="371.00" x2="449.65" y2="369.40" stroke="#555" stroke-width="1" />
<line x1="458.22" y1="215.00" x2="458.22" y2="217.80" stroke="#555" stroke-width="1" />
<line x1="458.22" y1="371.00" x2="458.22" y2="368.20" stroke="#555" stroke-width="1" />
<line x1="38.80" y1="354.05" x2="40.10" y2="354.05" stroke="#555" stroke-width="1" />
<line x1="466.20" y1="354.05" x2="464.30" y2="354.05" stroke="#333" stroke-width="1" />
<line x1="38.80" y1="336.60" x2="41.60" y2="336.60" stroke="#555" stroke-width="1" />
<line x1="466.20" y1="336.60" x2="462.80" y2="336.60" stroke="#333" stroke-width="1" />
<line x1="38.80" y1="319.15" x2="40.10" y2="319.15" stroke="#555" stroke-width="1" />
<line x1="466.20" y1="319.15" x2="464.30" y2="319.15" stroke="#333" stroke-width="1" />
<line x1="38.80" y1="301.70" x2="41.60" y2="301.70" stroke="#555" stroke-width="1" />
<line x1="466.20" y1="301.70" x2="462.80" y2="301.70" stroke="#333" stroke-width="1" />
<line x1="38.80" y1="284.25" x2="40.10" y2="284.25" stroke="#555" stroke-width="1" />
<line x1="466.20" y1="284.25" x2="464.30" y2="284.25" stroke="#333" stroke-width="1" />
<line x1="38.80" y1="266.80" x2="41.60" y2="266.80" stroke="#555" stroke-width="1" />
<line x1="466.20" y1="266.80" x2="462.80" y2="266.80" stroke="#333" stroke-width="1" />
<line x1="38.80" y1="249.35" x2="40.10" y2="249.35" stroke="#555" stroke-width="1" />
<line x1="466.20" y1="249.35" x2="464.30" y2="249.35" stroke="#333" stroke-width="1" />
<line x1="38.80" y1="231.90" x2="41.60" y2="231.90" stroke="#555" stroke-width="1" />
<line x1="466.20" y1="231.90" x2="462.80" y2="231.90" stroke="#333" stroke-width="1" />
<line x1="37.70" y1="214.50" x2="467.50" y2="214.50" stroke="#333" stroke-width="1.0" />
<line x1="37.70" y1="371.50" x2="467.50" y2="371.50" stroke="#333" stroke-width="1.0" />
<rect x="37.60" y="214.00" width="1.5" height="158.00" fill="#858585"/>
<line x1="252.40" y1="214.50" x2="252.40" y2="372.00" stroke="#2e2e2e" stroke-width="1.2" />
<rect x="466.10" y="214.00" width="1.4" height="158.00" fill="#727272"/>
<text x="35.00" y="375.10" font-size="10.2" text-anchor="end" fill="#111" >0</text>
<text x="35.00" y="340.20" font-size="10.2" text-anchor="end" fill="#111" >200</text>
<text x="35.00" y="305.30" font-size="10.2" text-anchor="end" fill="#111" >400</text>
<text x="35.00" y="270.40" font-size="10.2" text-anchor="end" fill="#111" >600</text>
<text x="35.00" y="235.50" font-size="10.2" text-anchor="end" fill="#111" >800</text>
<text transform="translate(38.30,384.30) scale(0.95,1.0)" x="0" y="0" font-size="11.3" text-anchor="middle" fill="#111" >0</text>
<text transform="translate(252.40,384.30) scale(0.95,1.0)" x="0" y="0" font-size="11.3" text-anchor="middle" fill="#111" >0</text>
<text transform="translate(55.45,384.30) scale(0.95,1.0)" x="0" y="0" font-size="11.3" text-anchor="middle" fill="#111" >2</text>
<text transform="translate(269.55,384.30) scale(0.95,1.0)" x="0" y="0" font-size="11.3" text-anchor="middle" fill="#111" >2</text>
<text transform="translate(72.60,384.30) scale(0.95,1.0)" x="0" y="0" font-size="11.3" text-anchor="middle" fill="#111" >4</text>
<text transform="translate(286.70,384.30) scale(0.95,1.0)" x="0" y="0" font-size="11.3" text-anchor="middle" fill="#111" >4</text>
<text transform="translate(89.76,384.30) scale(0.95,1.0)" x="0" y="0" font-size="11.3" text-anchor="middle" fill="#111" >6</text>
<text transform="translate(303.86,384.30) scale(0.95,1.0)" x="0" y="0" font-size="11.3" text-anchor="middle" fill="#111" >6</text>
<text transform="translate(106.91,384.30) scale(0.95,1.0)" x="0" y="0" font-size="11.3" text-anchor="middle" fill="#111" >8</text>
<text transform="translate(321.01,384.30) scale(0.95,1.0)" x="0" y="0" font-size="11.3" text-anchor="middle" fill="#111" >8</text>
<text transform="translate(124.06,384.30) scale(0.95,1.0)" x="0" y="0" font-size="11.3" text-anchor="middle" fill="#111" >10</text>
<text transform="translate(338.16,384.30) scale(0.95,1.0)" x="0" y="0" font-size="11.3" text-anchor="middle" fill="#111" >10</text>
<text transform="translate(141.21,384.30) scale(0.95,1.0)" x="0" y="0" font-size="11.3" text-anchor="middle" fill="#111" >12</text>
<text transform="translate(355.31,384.30) scale(0.95,1.0)" x="0" y="0" font-size="11.3" text-anchor="middle" fill="#111" >12</text>
<text transform="translate(158.36,384.30) scale(0.95,1.0)" x="0" y="0" font-size="11.3" text-anchor="middle" fill="#111" >14</text>
<text transform="translate(372.46,384.30) scale(0.95,1.0)" x="0" y="0" font-size="11.3" text-anchor="middle" fill="#111" >14</text>
<text transform="translate(175.52,384.30) scale(0.95,1.0)" x="0" y="0" font-size="11.3" text-anchor="middle" fill="#111" >16</text>
<text transform="translate(389.62,384.30) scale(0.95,1.0)" x="0" y="0" font-size="11.3" text-anchor="middle" fill="#111" >16</text>
<text transform="translate(192.67,384.30) scale(0.95,1.0)" x="0" y="0" font-size="11.3" text-anchor="middle" fill="#111" >18</text>
<text transform="translate(406.77,384.30) scale(0.95,1.0)" x="0" y="0" font-size="11.3" text-anchor="middle" fill="#111" >18</text>
<text transform="translate(209.82,384.30) scale(0.95,1.0)" x="0" y="0" font-size="11.3" text-anchor="middle" fill="#111" >20</text>
<text transform="translate(423.92,384.30) scale(0.95,1.0)" x="0" y="0" font-size="11.3" text-anchor="middle" fill="#111" >20</text>
<text transform="translate(226.97,384.30) scale(0.95,1.0)" x="0" y="0" font-size="11.3" text-anchor="middle" fill="#111" >22</text>
<text transform="translate(441.07,384.30) scale(0.95,1.0)" x="0" y="0" font-size="11.3" text-anchor="middle" fill="#111" >22</text>
<text transform="translate(243.12,384.30) scale(0.95,1.0)" x="0" y="0" font-size="11.3" text-anchor="middle" fill="#111" >24</text>
<text transform="translate(458.22,384.30) scale(0.95,1.0)" x="0" y="0" font-size="11.3" text-anchor="middle" fill="#111" >24</text>
<g transform="translate(10.8,339.4) rotate(-90) scale(1.0,1.0)" fill="#111">
<text x="0" y="0" font-size="12.0">SPA (W/g<tspan font-size="10.2" dx="0.6">Co</tspan><tspan font-size="6.8" dy="4.6">X</tspan><tspan font-size="10.2" dy="-4.6">Fe</tspan><tspan font-size="6.8" dy="4.6">3-X</tspan><tspan font-size="10.2" dy="-4.6" dx="-3.5">O</tspan><tspan font-size="6.8" dy="4.6" dx="-1.6">4</tspan><tspan font-size="10.2" dy="-4.6" dx="3.4">)</tspan></text>
</g>
<text x="224.4" y="399.4" font-size="14.3" fill="#111">H<tspan font-size="8.8" dy="6.0">0</tspan><tspan dy="-6.0">(kA/m)</tspan></text>
<text transform="translate(51.70,253.80) scale(0.94,1.0)" x="0" y="0" font-size="12.5" text-anchor="start" fill="#111" textLength="82.8">&lt;d&gt; = 14,3 nm</text>
<text transform="translate(268.70,252.80) scale(0.94,1.0)" x="0" y="0" font-size="12.5" text-anchor="start" fill="#111" textLength="82.6">&lt;d&gt; = 15,8 nm</text>
<text x="206.70" y="237.60" font-size="14.4" text-anchor="start" fill="#111" >d)</text>
<text x="434.30" y="235.50" font-size="14.4" text-anchor="start" fill="#111" >e)</text>
<line x1="105.50" y1="347.50" x2="110.80" y2="344.30" stroke="#0a0a0a" stroke-width="1.85" />
<line x1="116.40" y1="340.10" x2="121.30" y2="337.00" stroke="#0a0a0a" stroke-width="1.85" />
<line x1="126.90" y1="332.60" x2="132.10" y2="329.10" stroke="#0a0a0a" stroke-width="1.85" />
<line x1="137.90" y1="324.70" x2="144.60" y2="319.80" stroke="#0a0a0a" stroke-width="1.85" />
<line x1="150.20" y1="315.10" x2="157.70" y2="308.40" stroke="#0a0a0a" stroke-width="1.85" />
<line x1="163.30" y1="303.50" x2="168.00" y2="299.80" stroke="#0a0a0a" stroke-width="1.85" />
<line x1="173.30" y1="295.00" x2="178.60" y2="290.80" stroke="#0a0a0a" stroke-width="1.85" />
<line x1="183.40" y1="286.10" x2="191.80" y2="278.40" stroke="#0a0a0a" stroke-width="1.85" />
<line x1="197.20" y1="273.40" x2="205.50" y2="266.00" stroke="#0a0a0a" stroke-width="1.85" />
<line x1="210.40" y1="260.40" x2="219.10" y2="252.70" stroke="#0a0a0a" stroke-width="1.85" />
<line x1="224.20" y1="247.10" x2="232.60" y2="240.10" stroke="#0a0a0a" stroke-width="1.85" />
<line x1="237.80" y1="234.40" x2="242.50" y2="230.00" stroke="#0a0a0a" stroke-width="1.85" />
<circle cx="106.40" cy="355.70" r="2.15" fill="#fff" stroke="#1a1aff" stroke-width="1.15"/>
<circle cx="140.20" cy="340.80" r="2.15" fill="#fff" stroke="#1a1aff" stroke-width="1.15"/>
<circle cx="153.70" cy="334.50" r="2.15" fill="#fff" stroke="#1a1aff" stroke-width="1.15"/>
<circle cx="174.40" cy="321.70" r="2.15" fill="#fff" stroke="#1a1aff" stroke-width="1.15"/>
<circle cx="188.00" cy="307.30" r="2.15" fill="#fff" stroke="#1a1aff" stroke-width="1.15"/>
<circle cx="201.60" cy="297.00" r="2.15" fill="#fff" stroke="#1a1aff" stroke-width="1.15"/>
<circle cx="215.20" cy="283.50" r="2.15" fill="#fff" stroke="#1a1aff" stroke-width="1.15"/>
<line x1="228.90" y1="275.20" x2="228.90" y2="285.00" stroke="#7f7fff" stroke-width="0.7" />
<line x1="227.50" y1="275.20" x2="230.30" y2="275.20" stroke="#7f7fff" stroke-width="0.7" />
<line x1="227.50" y1="285.00" x2="230.30" y2="285.00" stroke="#7f7fff" stroke-width="0.7" />
<circle cx="228.90" cy="280.10" r="2.15" fill="#fff" stroke="#1a1aff" stroke-width="1.15"/>
<line x1="242.80" y1="260.50" x2="242.80" y2="268.50" stroke="#7f7fff" stroke-width="0.7" />
<line x1="241.40" y1="260.50" x2="244.20" y2="260.50" stroke="#7f7fff" stroke-width="0.7" />
<line x1="241.40" y1="268.50" x2="244.20" y2="268.50" stroke="#7f7fff" stroke-width="0.7" />
<circle cx="242.80" cy="264.50" r="2.15" fill="#fff" stroke="#1a1aff" stroke-width="1.15"/>
<line x1="320.50" y1="347.20" x2="324.60" y2="345.20" stroke="#0a0a0a" stroke-width="1.85" />
<line x1="331.20" y1="341.40" x2="336.70" y2="338.20" stroke="#0a0a0a" stroke-width="1.85" />
<line x1="342.10" y1="334.20" x2="346.90" y2="331.30" stroke="#0a0a0a" stroke-width="1.85" />
<line x1="352.30" y1="326.90" x2="358.60" y2="322.80" stroke="#0a0a0a" stroke-width="1.85" />
<line x1="364.00" y1="318.00" x2="372.80" y2="311.90" stroke="#0a0a0a" stroke-width="1.85" />
<line x1="377.90" y1="307.80" x2="383.00" y2="304.20" stroke="#0a0a0a" stroke-width="1.85" />
<line x1="388.50" y1="299.90" x2="393.90" y2="296.10" stroke="#0a0a0a" stroke-width="1.85" />
<line x1="398.80" y1="291.90" x2="404.50" y2="287.60" stroke="#0a0a0a" stroke-width="1.85" />
<line x1="412.30" y1="279.70" x2="420.30" y2="273.90" stroke="#0a0a0a" stroke-width="1.85" />
<line x1="425.90" y1="268.60" x2="433.90" y2="262.50" stroke="#0a0a0a" stroke-width="1.85" />
<line x1="439.30" y1="257.40" x2="447.80" y2="250.80" stroke="#0a0a0a" stroke-width="1.85" />
<line x1="453.20" y1="246.10" x2="457.30" y2="242.50" stroke="#0a0a0a" stroke-width="1.85" />
<circle cx="320.50" cy="348.40" r="2.15" fill="#fff" stroke="#1a1aff" stroke-width="1.15"/>
<circle cx="354.50" cy="338.60" r="2.15" fill="#fff" stroke="#1a1aff" stroke-width="1.15"/>
<line x1="368.10" y1="326.50" x2="368.10" y2="333.50" stroke="#7f7fff" stroke-width="0.7" />
<line x1="366.70" y1="326.50" x2="369.50" y2="326.50" stroke="#7f7fff" stroke-width="0.7" />
<line x1="366.70" y1="333.50" x2="369.50" y2="333.50" stroke="#7f7fff" stroke-width="0.7" />
<circle cx="368.10" cy="330.00" r="2.15" fill="#fff" stroke="#1a1aff" stroke-width="1.15"/>
<circle cx="388.50" cy="312.80" r="2.15" fill="#fff" stroke="#1a1aff" stroke-width="1.15"/>
<circle cx="402.30" cy="300.10" r="2.15" fill="#fff" stroke="#1a1aff" stroke-width="1.15"/>
<circle cx="415.90" cy="288.40" r="2.15" fill="#fff" stroke="#1a1aff" stroke-width="1.15"/>
<circle cx="429.50" cy="276.70" r="2.15" fill="#fff" stroke="#1a1aff" stroke-width="1.15"/>
<circle cx="443.40" cy="263.00" r="2.15" fill="#fff" stroke="#1a1aff" stroke-width="1.15"/>
<circle cx="457.10" cy="256.00" r="2.15" fill="#fff" stroke="#1a1aff" stroke-width="1.15"/>
<line x1="477.57" y1="369.00" x2="477.57" y2="367.30" stroke="#333" stroke-width="1" />
<line x1="477.57" y1="216.70" x2="477.57" y2="218.40" stroke="#444" stroke-width="1" />
<line x1="484.94" y1="369.00" x2="484.94" y2="366.00" stroke="#333" stroke-width="1" />
<line x1="484.94" y1="216.70" x2="484.94" y2="219.70" stroke="#444" stroke-width="1" />
<line x1="492.31" y1="369.00" x2="492.31" y2="367.30" stroke="#333" stroke-width="1" />
<line x1="492.31" y1="216.70" x2="492.31" y2="218.40" stroke="#444" stroke-width="1" />
<line x1="499.68" y1="369.00" x2="499.68" y2="366.00" stroke="#333" stroke-width="1" />
<line x1="499.68" y1="216.70" x2="499.68" y2="219.70" stroke="#444" stroke-width="1" />
<line x1="507.05" y1="369.00" x2="507.05" y2="367.30" stroke="#333" stroke-width="1" />
<line x1="507.05" y1="216.70" x2="507.05" y2="218.40" stroke="#444" stroke-width="1" />
<line x1="514.42" y1="369.00" x2="514.42" y2="366.00" stroke="#333" stroke-width="1" />
<line x1="514.42" y1="216.70" x2="514.42" y2="219.70" stroke="#444" stroke-width="1" />
<line x1="521.79" y1="369.00" x2="521.79" y2="367.30" stroke="#333" stroke-width="1" />
<line x1="521.79" y1="216.70" x2="521.79" y2="218.40" stroke="#444" stroke-width="1" />
<line x1="529.16" y1="369.00" x2="529.16" y2="366.00" stroke="#333" stroke-width="1" />
<line x1="529.16" y1="216.70" x2="529.16" y2="219.70" stroke="#444" stroke-width="1" />
<line x1="536.53" y1="369.00" x2="536.53" y2="367.30" stroke="#333" stroke-width="1" />
<line x1="536.53" y1="216.70" x2="536.53" y2="218.40" stroke="#444" stroke-width="1" />
<line x1="543.90" y1="369.00" x2="543.90" y2="366.00" stroke="#333" stroke-width="1" />
<line x1="543.90" y1="216.70" x2="543.90" y2="219.70" stroke="#444" stroke-width="1" />
<line x1="551.27" y1="369.00" x2="551.27" y2="367.30" stroke="#333" stroke-width="1" />
<line x1="551.27" y1="216.70" x2="551.27" y2="218.40" stroke="#444" stroke-width="1" />
<line x1="558.64" y1="369.00" x2="558.64" y2="366.00" stroke="#333" stroke-width="1" />
<line x1="558.64" y1="216.70" x2="558.64" y2="219.70" stroke="#444" stroke-width="1" />
<line x1="566.01" y1="369.00" x2="566.01" y2="367.30" stroke="#333" stroke-width="1" />
<line x1="566.01" y1="216.70" x2="566.01" y2="218.40" stroke="#444" stroke-width="1" />
<line x1="573.38" y1="369.00" x2="573.38" y2="366.00" stroke="#333" stroke-width="1" />
<line x1="573.38" y1="216.70" x2="573.38" y2="219.70" stroke="#444" stroke-width="1" />
<line x1="580.75" y1="369.00" x2="580.75" y2="367.30" stroke="#333" stroke-width="1" />
<line x1="580.75" y1="216.70" x2="580.75" y2="218.40" stroke="#444" stroke-width="1" />
<line x1="588.12" y1="369.00" x2="588.12" y2="366.00" stroke="#333" stroke-width="1" />
<line x1="588.12" y1="216.70" x2="588.12" y2="219.70" stroke="#444" stroke-width="1" />
<line x1="595.49" y1="369.00" x2="595.49" y2="367.30" stroke="#333" stroke-width="1" />
<line x1="595.49" y1="216.70" x2="595.49" y2="218.40" stroke="#444" stroke-width="1" />
<line x1="602.86" y1="369.00" x2="602.86" y2="366.00" stroke="#333" stroke-width="1" />
<line x1="602.86" y1="216.70" x2="602.86" y2="219.70" stroke="#444" stroke-width="1" />
<line x1="610.23" y1="369.00" x2="610.23" y2="367.30" stroke="#333" stroke-width="1" />
<line x1="610.23" y1="216.70" x2="610.23" y2="218.40" stroke="#444" stroke-width="1" />
<line x1="617.60" y1="369.00" x2="617.60" y2="366.00" stroke="#333" stroke-width="1" />
<line x1="617.60" y1="216.70" x2="617.60" y2="219.70" stroke="#444" stroke-width="1" />
<line x1="624.97" y1="369.00" x2="624.97" y2="367.30" stroke="#333" stroke-width="1" />
<line x1="624.97" y1="216.70" x2="624.97" y2="218.40" stroke="#444" stroke-width="1" />
<line x1="632.34" y1="369.00" x2="632.34" y2="366.00" stroke="#333" stroke-width="1" />
<line x1="632.34" y1="216.70" x2="632.34" y2="219.70" stroke="#444" stroke-width="1" />
<line x1="639.71" y1="369.00" x2="639.71" y2="367.30" stroke="#333" stroke-width="1" />
<line x1="639.71" y1="216.70" x2="639.71" y2="218.40" stroke="#444" stroke-width="1" />
<line x1="647.08" y1="369.00" x2="647.08" y2="366.00" stroke="#333" stroke-width="1" />
<line x1="647.08" y1="216.70" x2="647.08" y2="219.70" stroke="#444" stroke-width="1" />
<line x1="469.50" y1="363.20" x2="472.80" y2="363.20" stroke="#444" stroke-width="1" />
<line x1="652.50" y1="363.20" x2="655.70" y2="363.20" stroke="#333" stroke-width="1" />
<line x1="469.50" y1="355.00" x2="471.60" y2="355.00" stroke="#444" stroke-width="1" />
<line x1="653.70" y1="355.00" x2="655.70" y2="355.00" stroke="#333" stroke-width="1" />
<line x1="469.50" y1="346.80" x2="472.80" y2="346.80" stroke="#444" stroke-width="1" />
<line x1="652.50" y1="346.80" x2="655.70" y2="346.80" stroke="#333" stroke-width="1" />
<line x1="469.50" y1="338.60" x2="471.60" y2="338.60" stroke="#444" stroke-width="1" />
<line x1="653.70" y1="338.60" x2="655.70" y2="338.60" stroke="#333" stroke-width="1" />
<line x1="469.50" y1="330.40" x2="472.80" y2="330.40" stroke="#444" stroke-width="1" />
<line x1="652.50" y1="330.40" x2="655.70" y2="330.40" stroke="#333" stroke-width="1" />
<line x1="469.50" y1="322.20" x2="471.60" y2="322.20" stroke="#444" stroke-width="1" />
<line x1="653.70" y1="322.20" x2="655.70" y2="322.20" stroke="#333" stroke-width="1" />
<line x1="469.50" y1="314.00" x2="472.80" y2="314.00" stroke="#444" stroke-width="1" />
<line x1="652.50" y1="314.00" x2="655.70" y2="314.00" stroke="#333" stroke-width="1" />
<line x1="469.50" y1="305.80" x2="471.60" y2="305.80" stroke="#444" stroke-width="1" />
<line x1="653.70" y1="305.80" x2="655.70" y2="305.80" stroke="#333" stroke-width="1" />
<line x1="469.50" y1="297.60" x2="472.80" y2="297.60" stroke="#444" stroke-width="1" />
<line x1="652.50" y1="297.60" x2="655.70" y2="297.60" stroke="#333" stroke-width="1" />
<line x1="469.50" y1="289.40" x2="471.60" y2="289.40" stroke="#444" stroke-width="1" />
<line x1="653.70" y1="289.40" x2="655.70" y2="289.40" stroke="#333" stroke-width="1" />
<line x1="469.50" y1="281.20" x2="472.80" y2="281.20" stroke="#444" stroke-width="1" />
<line x1="652.50" y1="281.20" x2="655.70" y2="281.20" stroke="#333" stroke-width="1" />
<line x1="469.50" y1="273.00" x2="471.60" y2="273.00" stroke="#444" stroke-width="1" />
<line x1="653.70" y1="273.00" x2="655.70" y2="273.00" stroke="#333" stroke-width="1" />
<line x1="469.50" y1="264.80" x2="472.80" y2="264.80" stroke="#444" stroke-width="1" />
<line x1="652.50" y1="264.80" x2="655.70" y2="264.80" stroke="#333" stroke-width="1" />
<line x1="469.50" y1="256.60" x2="471.60" y2="256.60" stroke="#444" stroke-width="1" />
<line x1="653.70" y1="256.60" x2="655.70" y2="256.60" stroke="#333" stroke-width="1" />
<line x1="469.50" y1="248.40" x2="472.80" y2="248.40" stroke="#444" stroke-width="1" />
<line x1="652.50" y1="248.40" x2="655.70" y2="248.40" stroke="#333" stroke-width="1" />
<line x1="469.50" y1="240.20" x2="471.60" y2="240.20" stroke="#444" stroke-width="1" />
<line x1="653.70" y1="240.20" x2="655.70" y2="240.20" stroke="#333" stroke-width="1" />
<line x1="469.50" y1="232.00" x2="472.80" y2="232.00" stroke="#444" stroke-width="1" />
<line x1="652.50" y1="232.00" x2="655.70" y2="232.00" stroke="#333" stroke-width="1" />
<line x1="469.50" y1="223.80" x2="471.60" y2="223.80" stroke="#444" stroke-width="1" />
<line x1="653.70" y1="223.80" x2="655.70" y2="223.80" stroke="#333" stroke-width="1" />
<line x1="468.90" y1="215.90" x2="656.40" y2="215.90" stroke="#4a4a4a" stroke-width="1.5" />
<line x1="468.90" y1="369.40" x2="656.40" y2="369.40" stroke="#333" stroke-width="1.1" />
<line x1="469.50" y1="215.90" x2="469.50" y2="369.50" stroke="#444" stroke-width="1.2" />
<line x1="655.70" y1="215.90" x2="655.70" y2="369.50" stroke="#3a3a3a" stroke-width="1.3" />
<text transform="translate(469.80,381.70) scale(0.93,1.0)" x="0" y="0" font-size="11.6" text-anchor="middle" fill="#111" >0</text>
<text transform="translate(484.54,381.70) scale(0.93,1.0)" x="0" y="0" font-size="11.6" text-anchor="middle" fill="#111" >2</text>
<text transform="translate(499.28,381.70) scale(0.93,1.0)" x="0" y="0" font-size="11.6" text-anchor="middle" fill="#111" >4</text>
<text transform="translate(514.02,381.70) scale(0.93,1.0)" x="0" y="0" font-size="11.6" text-anchor="middle" fill="#111" >6</text>
<text transform="translate(528.76,381.70) scale(0.93,1.0)" x="0" y="0" font-size="11.6" text-anchor="middle" fill="#111" >8</text>
<text transform="translate(543.50,381.70) scale(0.93,1.0)" x="0" y="0" font-size="11.6" text-anchor="middle" fill="#111" >10</text>
<text transform="translate(558.24,381.70) scale(0.93,1.0)" x="0" y="0" font-size="11.6" text-anchor="middle" fill="#111" >12</text>
<text transform="translate(572.98,381.70) scale(0.93,1.0)" x="0" y="0" font-size="11.6" text-anchor="middle" fill="#111" >14</text>
<text transform="translate(587.72,381.70) scale(0.93,1.0)" x="0" y="0" font-size="11.6" text-anchor="middle" fill="#111" >16</text>
<text transform="translate(602.46,381.70) scale(0.93,1.0)" x="0" y="0" font-size="11.6" text-anchor="middle" fill="#111" >18</text>
<text transform="translate(617.20,381.70) scale(0.93,1.0)" x="0" y="0" font-size="11.6" text-anchor="middle" fill="#111" >20</text>
<text transform="translate(631.94,381.70) scale(0.93,1.0)" x="0" y="0" font-size="11.6" text-anchor="middle" fill="#111" >22</text>
<text transform="translate(646.68,381.70) scale(0.93,1.0)" x="0" y="0" font-size="11.6" text-anchor="middle" fill="#111" >24</text>
<text x="658.50" y="367.20" font-size="11.5" text-anchor="start" fill="#111" >0,0</text>
<text x="658.50" y="350.80" font-size="11.5" text-anchor="start" fill="#111" >0,5</text>
<text x="658.50" y="334.40" font-size="11.5" text-anchor="start" fill="#111" >1,0</text>
<text x="658.50" y="318.00" font-size="11.5" text-anchor="start" fill="#111" >1,5</text>
<text x="658.50" y="301.60" font-size="11.5" text-anchor="start" fill="#111" >2,0</text>
<text x="658.50" y="285.20" font-size="11.5" text-anchor="start" fill="#111" >2,5</text>
<text x="658.50" y="268.80" font-size="11.5" text-anchor="start" fill="#111" >3,0</text>
<text x="658.50" y="252.40" font-size="11.5" text-anchor="start" fill="#111" >3,5</text>
<text x="658.50" y="236.00" font-size="11.5" text-anchor="start" fill="#111" >4,0</text>
<text x="658.50" y="219.60" font-size="11.5" text-anchor="start" fill="#111" >4,5</text>
<g transform="translate(676.6,243.6) rotate(90) scale(0.815,0.95)" fill="#111">
<text x="0" y="0" font-size="12.0">SPA(W/g<tspan font-size="10.2" dx="0.0">Co</tspan><tspan font-size="5.4" dy="3.6">X</tspan><tspan font-size="10.2" dy="-3.6">Fe</tspan><tspan font-size="5.4" dy="3.6">3-X</tspan><tspan font-size="10.2" dy="-3.6" dx="0.0">O</tspan><tspan font-size="5.4" dy="3.6" dx="0.0">4</tspan><tspan font-size="10.2" dy="-3.6" dx="0.0">)</tspan></text>
</g>
<text x="536.4" y="398.9" font-size="13.4" fill="#111">H<tspan font-size="8.2" dy="5.2">0</tspan><tspan dy="-5.2">(kA/m)</tspan></text>
<text transform="translate(586.80,340.90) scale(0.94,1.0)" x="0" y="0" font-size="12.5" text-anchor="start" fill="#111" textLength="65.4">&lt;d&gt; = 5 nm</text>
<text x="484.90" y="351.10" font-size="14.4" text-anchor="start" fill="#111" >f)</text>
<line x1="528.20" y1="350.10" x2="531.90" y2="347.50" stroke="#0a0a0a" stroke-width="1.7" />
<line x1="537.10" y1="343.50" x2="540.80" y2="341.30" stroke="#0a0a0a" stroke-width="1.7" />
<line x1="545.50" y1="337.10" x2="549.30" y2="334.60" stroke="#0a0a0a" stroke-width="1.7" />
<line x1="554.40" y1="330.60" x2="561.50" y2="326.20" stroke="#0a0a0a" stroke-width="1.7" />
<line x1="577.10" y1="312.80" x2="580.40" y2="309.50" stroke="#0a0a0a" stroke-width="1.7" />
<line x1="584.20" y1="304.80" x2="590.80" y2="297.70" stroke="#0a0a0a" stroke-width="1.7" />
<line x1="595.00" y1="292.90" x2="598.30" y2="289.50" stroke="#0a0a0a" stroke-width="1.7" />
<line x1="599.70" y1="288.00" x2="602.80" y2="284.40" stroke="#0a0a0a" stroke-width="1.7" />
<line x1="606.60" y1="279.70" x2="609.70" y2="276.60" stroke="#0a0a0a" stroke-width="1.7" />
<line x1="610.60" y1="275.70" x2="613.70" y2="271.70" stroke="#0a0a0a" stroke-width="1.7" />
<line x1="617.50" y1="266.40" x2="620.50" y2="262.90" stroke="#0a0a0a" stroke-width="1.7" />
<line x1="623.20" y1="258.50" x2="626.00" y2="255.10" stroke="#0a0a0a" stroke-width="1.7" />
<line x1="629.30" y1="250.20" x2="631.90" y2="246.40" stroke="#0a0a0a" stroke-width="1.7" />
<line x1="635.00" y1="241.90" x2="638.60" y2="239.60" stroke="#0a0a0a" stroke-width="1.7" />
<line x1="643.00" y1="235.50" x2="647.00" y2="232.50" stroke="#0a0a0a" stroke-width="1.7" />
<path d="M567.0,322.4 L570.3,320.6 L572.7,317.6" fill="none" stroke="#0a0a0a" stroke-width="1.7" stroke-linejoin="round"/>
<circle cx="528.60" cy="363.20" r="2.15" fill="#fff" stroke="#1a1aff" stroke-width="1.15"/>
<circle cx="558.40" cy="363.20" r="2.15" fill="#fff" stroke="#1a1aff" stroke-width="1.15"/>
<circle cx="570.30" cy="363.20" r="2.15" fill="#fff" stroke="#1a1aff" stroke-width="1.15"/>
<circle cx="587.80" cy="363.20" r="2.15" fill="#fff" stroke="#1a1aff" stroke-width="1.15"/>
<circle cx="599.30" cy="363.20" r="2.15" fill="#fff" stroke="#1a1aff" stroke-width="1.15"/>
<circle cx="611.40" cy="363.20" r="2.15" fill="#fff" stroke="#1a1aff" stroke-width="1.15"/>
<circle cx="623.10" cy="363.20" r="2.15" fill="#fff" stroke="#1a1aff" stroke-width="1.15"/>
<circle cx="634.80" cy="363.20" r="2.15" fill="#fff" stroke="#1a1aff" stroke-width="1.15"/>
<circle cx="646.80" cy="363.20" r="2.15" fill="#fff" stroke="#1a1aff" stroke-width="1.15"/>
<rect x="511.0" y="223.6" width="83.8" height="55.5" fill="#fff" stroke="#b4b4b4" stroke-width="1"/>
<line x1="511.60" y1="279.10" x2="511.60" y2="277.30" stroke="#b4b4b4" stroke-width="0.8" />
<line x1="511.60" y1="223.60" x2="511.60" y2="225.40" stroke="#b4b4b4" stroke-width="0.8" />
<line x1="524.91" y1="279.10" x2="524.91" y2="277.30" stroke="#b4b4b4" stroke-width="0.8" />
<line x1="524.91" y1="223.60" x2="524.91" y2="225.40" stroke="#b4b4b4" stroke-width="0.8" />
<line x1="538.22" y1="279.10" x2="538.22" y2="277.30" stroke="#b4b4b4" stroke-width="0.8" />
<line x1="538.22" y1="223.60" x2="538.22" y2="225.40" stroke="#b4b4b4" stroke-width="0.8" />
<line x1="551.54" y1="279.10" x2="551.54" y2="277.30" stroke="#b4b4b4" stroke-width="0.8" />
<line x1="551.54" y1="223.60" x2="551.54" y2="225.40" stroke="#b4b4b4" stroke-width="0.8" />
<line x1="564.85" y1="279.10" x2="564.85" y2="277.30" stroke="#b4b4b4" stroke-width="0.8" />
<line x1="564.85" y1="223.60" x2="564.85" y2="225.40" stroke="#b4b4b4" stroke-width="0.8" />
<line x1="578.16" y1="279.10" x2="578.16" y2="277.30" stroke="#b4b4b4" stroke-width="0.8" />
<line x1="578.16" y1="223.60" x2="578.16" y2="225.40" stroke="#b4b4b4" stroke-width="0.8" />
<line x1="591.47" y1="279.10" x2="591.47" y2="277.30" stroke="#b4b4b4" stroke-width="0.8" />
<line x1="591.47" y1="223.60" x2="591.47" y2="225.40" stroke="#b4b4b4" stroke-width="0.8" />
<line x1="511.00" y1="279.10" x2="512.80" y2="279.10" stroke="#b4b4b4" stroke-width="0.8" />
<line x1="594.80" y1="279.10" x2="593.00" y2="279.10" stroke="#b4b4b4" stroke-width="0.8" />
<line x1="511.00" y1="265.23" x2="512.80" y2="265.23" stroke="#b4b4b4" stroke-width="0.8" />
<line x1="594.80" y1="265.23" x2="593.00" y2="265.23" stroke="#b4b4b4" stroke-width="0.8" />
<line x1="511.00" y1="251.35" x2="512.80" y2="251.35" stroke="#b4b4b4" stroke-width="0.8" />
<line x1="594.80" y1="251.35" x2="593.00" y2="251.35" stroke="#b4b4b4" stroke-width="0.8" />
<line x1="511.00" y1="237.47" x2="512.80" y2="237.47" stroke="#b4b4b4" stroke-width="0.8" />
<line x1="594.80" y1="237.47" x2="593.00" y2="237.47" stroke="#b4b4b4" stroke-width="0.8" />
<line x1="511.00" y1="223.60" x2="512.80" y2="223.60" stroke="#b4b4b4" stroke-width="0.8" />
<line x1="594.80" y1="223.60" x2="593.00" y2="223.60" stroke="#b4b4b4" stroke-width="0.8" />
<text x="510.60" y="282.50" font-size="9.8" text-anchor="end" fill="#111" >-0,5</text>
<text x="510.60" y="268.62" font-size="9.8" text-anchor="end" fill="#111" >0,0</text>
<text x="510.60" y="254.75" font-size="9.8" text-anchor="end" fill="#111" >0,5</text>
<text x="510.60" y="240.88" font-size="9.8" text-anchor="end" fill="#111" >1,0</text>
<text x="510.60" y="227.00" font-size="9.8" text-anchor="end" fill="#111" >1,5</text>
<text x="512.20" y="288.40" font-size="10.0" text-anchor="middle" fill="#111" >0</text>
<text x="524.80" y="288.40" font-size="10.0" text-anchor="middle" fill="#111" >4</text>
<text x="538.00" y="288.40" font-size="10.0" text-anchor="middle" fill="#111" >8</text>
<text x="551.90" y="288.40" font-size="10.0" text-anchor="middle" fill="#111" textLength="9.9" lengthAdjust="spacingAndGlyphs">12</text>
<text x="564.70" y="288.40" font-size="10.0" text-anchor="middle" fill="#111" textLength="9.9" lengthAdjust="spacingAndGlyphs">16</text>
<text x="577.40" y="288.40" font-size="10.0" text-anchor="middle" fill="#111" textLength="9.9" lengthAdjust="spacingAndGlyphs">20</text>
<text x="590.40" y="288.40" font-size="10.0" text-anchor="middle" fill="#111" textLength="9.9" lengthAdjust="spacingAndGlyphs">24</text>
<text x="534.00" y="300.10" font-size="11.6" text-anchor="start" fill="#111" >H(kA/m)</text>
<text transform="translate(515.30,236.10) scale(0.94,1.0)" x="0" y="0" font-size="12.5" text-anchor="start" fill="#111" textLength="71.2">&lt;d&gt; = 25 nm</text>
<g transform="translate(488.5,296.0) rotate(-90)">
<text x="0" y="0" font-size="6.6" fill="#111" textLength="51.2" lengthAdjust="spacingAndGlyphs">SPA (W/gCo<tspan font-size="4" dy="1.7">x</tspan><tspan dy="-1.7">Fe</tspan><tspan font-size="4" dy="1.7">3-x</tspan><tspan dy="-1.7">O</tspan><tspan font-size="4" dy="1.7">4</tspan><tspan dy="-1.7">)</tspan></text>
<text x="52.5" y="-0.2" font-size="9.3" fill="#111">x 10<tspan font-size="6.2" dy="-4.0">-2</tspan></text>
</g>
<path d="M538.1,257.0 L585.3,238.4 L590.9,237.1" fill="none" stroke="#222" stroke-width="1"/>
<circle cx="538.00" cy="265.50" r="1.55" fill="#fff" stroke="#1a1aff" stroke-width="0.85"/>
<circle cx="551.20" cy="265.50" r="1.55" fill="#fff" stroke="#1a1aff" stroke-width="0.85"/>
<circle cx="556.30" cy="265.50" r="1.55" fill="#fff" stroke="#1a1aff" stroke-width="0.85"/>
<circle cx="564.30" cy="265.50" r="1.55" fill="#fff" stroke="#1a1aff" stroke-width="0.85"/>
<circle cx="569.40" cy="265.50" r="1.55" fill="#fff" stroke="#1a1aff" stroke-width="0.85"/>
<circle cx="574.80" cy="265.50" r="1.55" fill="#fff" stroke="#1a1aff" stroke-width="0.85"/>
<circle cx="580.10" cy="265.50" r="1.55" fill="#fff" stroke="#1a1aff" stroke-width="0.85"/>
<circle cx="585.50" cy="265.50" r="1.55" fill="#fff" stroke="#1a1aff" stroke-width="0.85"/>
<circle cx="590.90" cy="265.50" r="1.55" fill="#fff" stroke="#1a1aff" stroke-width="0.85"/>
<rect x="555.0" y="0.5" width="102.4" height="34.8" fill="#fff" stroke="#a8a8a8" stroke-width="1"/>
<line x1="557.00" y1="9.50" x2="562.30" y2="9.50" stroke="#0a0a0a" stroke-width="1.85" />
<line x1="570.00" y1="9.50" x2="576.20" y2="9.50" stroke="#0a0a0a" stroke-width="1.85" />
<line x1="583.20" y1="9.50" x2="589.20" y2="9.50" stroke="#0a0a0a" stroke-width="1.85" />
<circle cx="572.80" cy="27.50" r="2.15" fill="#fff" stroke="#1a1aff" stroke-width="1.15"/>
<text x="593.60" y="14.70" font-size="14.6" text-anchor="start" fill="#111" textLength="63">Simulated</text>
<text x="593.60" y="32.80" font-size="14.6" text-anchor="start" fill="#111" textLength="62.4">Exp. Data</text>
</svg>
</body></html>
